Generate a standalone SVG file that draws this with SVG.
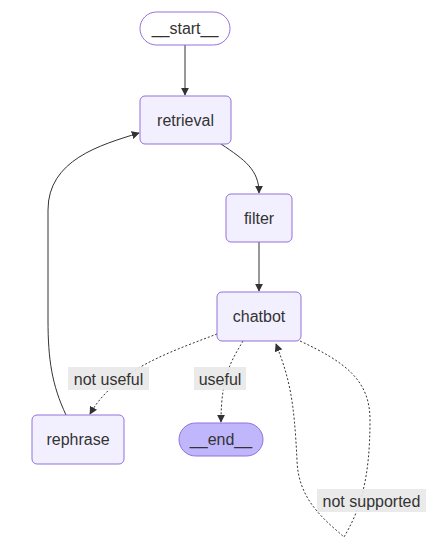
<svg xmlns="http://www.w3.org/2000/svg" width="438" height="550" viewBox="0 0 438 550">
<style>
.n rect{fill:#f2f0ff;stroke:#9370db;stroke-width:1}
#start rect{fill:#ffffff}
#end rect{fill:#bfb6fc}
text{font-family:"Liberation Sans",Arial,sans-serif;font-size:16px;fill:#333;text-anchor:middle;dominant-baseline:central}
.e{fill:none;stroke:#333;stroke-width:1}
.d{stroke-dasharray:2,2}
.lb{fill:#e8e8e8;opacity:0.9}
</style>
<defs>
<marker id="ah" viewBox="0 0 10 10" refX="9" refY="5" markerWidth="8" markerHeight="8" markerUnits="userSpaceOnUse" orient="auto">
<path d="M0,0 L10,5 L0,10 z" fill="#333"/>
</marker>
</defs>
<rect width="438" height="550" fill="#ffffff"/>
<g id="connectors">
<path class="e" d="M185,45 L185,95" marker-end="url(#ah)"/>
<path class="e" d="M221,144 C245,160 259,170 259,193" marker-end="url(#ah)"/>
<path class="e" d="M259,242 L259,291" marker-end="url(#ah)"/>
<path class="e d" d="M217,334 C170,352 115,370 90,414" marker-end="url(#ah)"/>
<path class="e d" d="M243,341 C232,360 221,375 221,422" marker-end="url(#ah)"/>
<path class="e d" d="M300,341 C345,362 370,380 370,420 C370,480 360,510 344,537 C325,520 298,500 297,460 C294,400 290,380 276,344" marker-end="url(#ah)"/>
<path class="e" d="M66,415 C52,385 48,360 48,320 L48,210 C48,160 100,145 139,133" marker-end="url(#ah)"/>
</g>
<g id="labels">
<rect class="lb" x="68" y="367" width="81" height="23"/>
<text x="108.5" y="379">not useful</text>
<rect class="lb" x="194" y="367" width="52" height="23"/>
<text x="220" y="379">useful</text>
<rect class="lb" x="317" y="489" width="109" height="23"/>
<text x="371.5" y="501">not supported</text>
</g>
<g id="start" class="n"><rect x="140" y="12" width="90" height="33" rx="16.5"/><text x="185" y="28.5">__start__</text></g>
<g id="retrieval" class="n"><rect x="140" y="96" width="91" height="48" rx="5"/><text x="185.5" y="120">retrieval</text></g>
<g id="filter" class="n"><rect x="226" y="194" width="66" height="48" rx="5"/><text x="259" y="218">filter</text></g>
<g id="chatbot" class="n"><rect x="217" y="292" width="84" height="49" rx="5"/><text x="259" y="316.5">chatbot</text></g>
<g id="rephrase" class="n"><rect x="32" y="415" width="92" height="49" rx="5"/><text x="78" y="439.5">rephrase</text></g>
<g id="end" class="n"><rect x="179" y="423" width="84" height="33" rx="16.5"/><text x="221" y="439.5">__end__</text></g>
</svg>
